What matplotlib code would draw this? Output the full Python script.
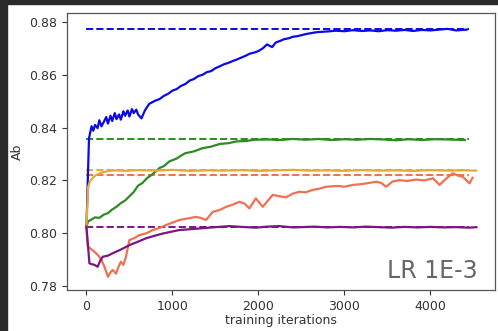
import matplotlib.pyplot as plt
from matplotlib.patches import Rectangle

# accuracy traces per run (iteration, value)
blue_it = [0, 30, 60, 80, 100, 130, 150, 175, 200, 230, 250, 280, 300, 330, 350, 380,
           400, 430, 450, 480, 500, 530, 550, 580, 600, 640, 680, 730, 800, 850, 900,
           950, 1000, 1050, 1100, 1150, 1200, 1250, 1300, 1350, 1400, 1450, 1500,
           1550, 1600, 1650, 1700, 1750, 1800, 1850, 1900, 1950, 2000, 2050, 2100,
           2160, 2200, 2250, 2300, 2350, 2400, 2450, 2500, 2550, 2600, 2650, 2700,
           2800, 2900, 3000, 3100, 3200, 3300, 3400, 3500, 3600, 3700, 3800, 3900,
           4000, 4100, 4200, 4300, 4420]
blue_ab = [0.8020, 0.8360, 0.8405, 0.8388, 0.8410, 0.8398, 0.8428, 0.8405, 0.8420,
           0.8440, 0.8415, 0.8445, 0.8425, 0.8455, 0.8432, 0.8450, 0.8430, 0.8462,
           0.8445, 0.8465, 0.8442, 0.8470, 0.8455, 0.8468, 0.8450, 0.8435, 0.8465,
           0.8490, 0.8502, 0.8508, 0.8520, 0.8528, 0.8540, 0.8546, 0.8558, 0.8565,
           0.8578, 0.8584, 0.8595, 0.8600, 0.8610, 0.8614, 0.8625, 0.8632, 0.8640,
           0.8645, 0.8652, 0.8658, 0.8665, 0.8672, 0.8680, 0.8684, 0.8690, 0.8700,
           0.8715, 0.8705, 0.8722, 0.8728, 0.8735, 0.8738, 0.8744, 0.8746, 0.8750,
           0.8754, 0.8757, 0.8760, 0.8762, 0.8764, 0.8767, 0.8765, 0.8769, 0.8766,
           0.8768, 0.8765, 0.8769, 0.8767, 0.8770, 0.8766, 0.8770, 0.8768, 0.8771,
           0.8774, 0.8768, 0.8771]

green_it = [0, 20, 60, 100, 150, 200, 250, 300, 350, 400, 450, 500, 550, 600, 650,
            700, 770, 850, 900, 965, 1050, 1100, 1150, 1250, 1350, 1450, 1550, 1650,
            1750, 1850, 1950, 2100, 2250, 2400, 2550, 2700, 2850, 3000, 3150, 3300,
            3450, 3600, 3750, 3900, 4050, 4200, 4400]
green_ab = [0.8025, 0.8045, 0.8052, 0.8060, 0.8058, 0.8070, 0.8076, 0.8090, 0.8100,
            0.8114, 0.8124, 0.8140, 0.8156, 0.8180, 0.8190, 0.8207, 0.8224, 0.8247,
            0.8254, 0.8272, 0.8283, 0.8294, 0.8303, 0.8310, 0.8322, 0.8328, 0.8338,
            0.8341, 0.8348, 0.8349, 0.8354, 0.8355, 0.8353, 0.8357, 0.8354, 0.8357,
            0.8353, 0.8356, 0.8354, 0.8357, 0.8355, 0.8352, 0.8356, 0.8353, 0.8356,
            0.8355, 0.8353]

gold_it = [0, 20, 40, 80, 120, 190, 260, 350, 450, 600, 800, 1000, 1200, 1400, 1600,
           1800, 2000, 2200, 2400, 2600, 2800, 3000, 3200, 3400, 3600, 3800, 4000,
           4200, 4400, 4530]
gold_ab = [0.8025, 0.8175, 0.8195, 0.8212, 0.8222, 0.8231, 0.8236, 0.8238, 0.8236,
           0.8239, 0.8237, 0.8240, 0.8236, 0.8238, 0.8237, 0.8239, 0.8236, 0.8238,
           0.8240, 0.8237, 0.8238, 0.8236, 0.8239, 0.8237, 0.8238, 0.8236, 0.8239,
           0.8237, 0.8238, 0.8237]

coral_it = [0, 15, 70, 110, 150, 180, 210, 250, 280, 305, 345, 370, 400, 430, 460,
            500, 560, 615, 700, 770, 850, 925, 1000, 1080, 1180, 1275, 1330, 1390,
            1470, 1550, 1625, 1700, 1780, 1840, 1895, 1970, 2050, 2165, 2280, 2320,
            2400, 2475, 2550, 2630, 2700, 2785, 2920, 3000, 3100, 3200, 3370, 3430,
            3485, 3560, 3640, 3730, 3830, 3930, 4030, 4105, 4180, 4260, 4320, 4375,
            4455, 4490]
coral_ab = [0.8025, 0.7950, 0.7936, 0.7925, 0.7911, 0.7895, 0.7873, 0.7835, 0.7852,
            0.7861, 0.7847, 0.7870, 0.7892, 0.7880, 0.7911, 0.7974, 0.7982, 0.7993,
            0.8000, 0.8012, 0.8020, 0.8031, 0.8040, 0.8050, 0.8056, 0.8062, 0.8058,
            0.8050, 0.8081, 0.8088, 0.8100, 0.8108, 0.8119, 0.8112, 0.8094, 0.8132,
            0.8100, 0.8145, 0.8138, 0.8136, 0.8150, 0.8157, 0.8155, 0.8164, 0.8168,
            0.8176, 0.8179, 0.8176, 0.8183, 0.8186, 0.8195, 0.8190, 0.8176, 0.8196,
            0.8201, 0.8198, 0.8203, 0.8200, 0.8208, 0.8183, 0.8206, 0.8227, 0.8218,
            0.8214, 0.8189, 0.8210]

purple_it = [0, 35, 70, 95, 130, 160, 190, 250, 305, 400, 500, 600, 695, 790, 890,
             1080, 1200, 1350, 1500, 1660, 1800, 1970, 2100, 2240, 2400, 2500, 2650,
             2800, 2950, 3100, 3250, 3400, 3550, 3700, 3850, 4000, 4150, 4300, 4450,
             4535]
purple_ab = [0.8025, 0.7886, 0.7882, 0.7880, 0.7873, 0.7895, 0.7911, 0.7915, 0.7924,
             0.7938, 0.7955, 0.7968, 0.7981, 0.7990, 0.7999, 0.8012, 0.8015, 0.8019,
             0.8023, 0.8027, 0.8024, 0.8021, 0.8025, 0.8027, 0.8022, 0.8023, 0.8025,
             0.8022, 0.8024, 0.8022, 0.8025, 0.8023, 0.8021, 0.8024, 0.8022, 0.8024,
             0.8022, 0.8023, 0.8021, 0.8023]

# converged level of each run
levels = [0.8772, 0.8356, 0.8238, 0.8222, 0.8025]
colors = ['#0a0ae6', '#2e8b22', '#e8a838', '#f07050', '#7b1683']
level_end = 4450

fig = plt.figure(figsize=(4.98, 3.31), dpi=100)
ax = fig.add_axes([0.1345, 0.1239, 0.8595, 0.8368])

for lvl, c in zip(levels, colors):
    ax.plot([0, level_end], [lvl, lvl], '--', color=c, lw=1.4)

traces = [(blue_it, blue_ab), (green_it, green_ab), (gold_it, gold_ab),
          (coral_it, coral_ab), (purple_it, purple_ab)]
for (it, ab), c in zip(traces, colors):
    ax.plot(it, ab, color=c, lw=1.6)

ax.set_xlim(-226, 4751)
ax.set_ylim(0.7785, 0.8834)
ax.set_yticks([0.78, 0.80, 0.82, 0.84, 0.86, 0.88])
ax.set_xticks([0, 1000, 2000, 3000, 4000])
ax.tick_params(labelsize=9, colors='#333333', length=3.5)
for s in ax.spines.values():
    s.set_color('#555555')
    s.set_linewidth(0.9)
ax.set_xlabel('training iterations', fontsize=9, color='#333333', labelpad=1)
ax.set_ylabel('Ab', fontsize=9, color='#333333', labelpad=4)

ax.text(0.96, 0.043, 'LR 1E-3', transform=ax.transAxes, ha='right', va='baseline',
        fontsize=17, color='#666666')

# dark frame along the top and left edges
fig.patches.append(Rectangle((0, 0), 7 / 498, 1, transform=fig.transFigure,
                             color='#2a2a2a', zorder=10))
fig.patches.append(Rectangle((0, 1 - 4 / 331), 1, 4 / 331, transform=fig.transFigure,
                             color='#2a2a2a', zorder=10))

fig.savefig('out.png', dpi=100)
